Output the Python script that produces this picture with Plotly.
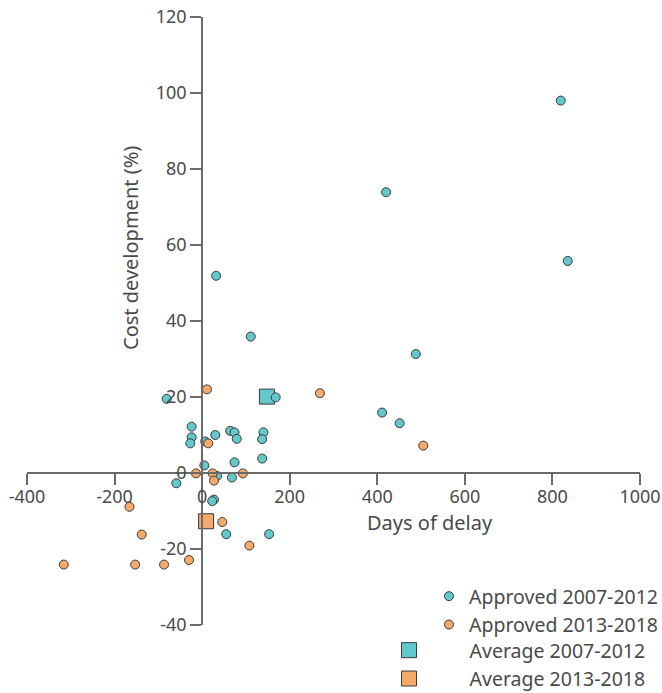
import plotly.graph_objects as go

# Approved 2007-2012 (days of delay, cost development %)
delay_0712 = [819, 420, 835, 111, 488, 32, -81, 168, 411, 451,
              -24, -24, -27, 7, 30, 64, 74, 79, 140, 137,
              137, 74, 5, 34, 68, -59, 27, 23, 55, 153]
cost_0712 = [98.0, 73.9, 55.8, 35.9, 31.3, 51.9, 19.5, 19.9, 15.9, 13.1,
             12.2, 9.4, 7.8, 8.3, 10.0, 11.1, 10.7, 9.0, 10.7, 8.9,
             3.8, 2.8, 2.0, -0.8, -1.2, -2.7, -7.0, -7.4, -16.1, -16.1]

# Approved 2013-2018
delay_1318 = [11, 269, 14, 505, -14, 24, 27, 93, -166, 46,
              -138, 108, -316, -153, -87, -30]
cost_1318 = [22.0, 21.0, 7.8, 7.2, -0.1, -0.1, -2.0, -0.1, -8.9, -12.9,
             -16.2, -19.1, -24.1, -24.1, -24.1, -22.9]

# Averages
avg_delay = [148, 9]
avg_cost = [20.1, -12.7]

x_ticks = [-400, -200, 0, 200, 400, 600, 800, 1000]
x_tick_text = ["-400", "-200", "0", "200", "400", "600", "800", "1000"]
y_ticks = [-40, -20, 0, 20, 40, 60, 80, 100, 120]
y_tick_text = ["-40", "-20", "0", "20", "40", "60", "80", "100", "120"]

TEAL = "#62C8CA"
ORANGE = "#F5A96B"
EDGE = "#3a3a3a"
AXIS = "#6a6a6a"
TXT = "#4a4a4a"
FONT = "Noto Sans"

NB = "\u00a0" * 8
W, H = 662, 693

fig = go.Figure()
fig.add_trace(go.Scatter(x=[avg_delay[0]], y=[avg_cost[0]], mode="markers",
                         name=NB + "Average 2007-2012", legend="legend2",
                         legendgroup="a1",
                         marker=dict(symbol="square", size=15, color=TEAL,
                                     line=dict(color=EDGE, width=1))))
fig.add_trace(go.Scatter(x=[avg_delay[1]], y=[avg_cost[1]], mode="markers",
                         name=NB + "Average 2013-2018", legend="legend2",
                         legendgroup="a2",
                         marker=dict(symbol="square", size=15, color=ORANGE,
                                     line=dict(color=EDGE, width=1))))
fig.add_trace(go.Scatter(x=delay_0712, y=cost_0712, mode="markers",
                         name="Approved 2007-2012", legend="legend",
                         legendgroup="p1",
                         marker=dict(symbol="circle", size=9, color=TEAL,
                                     line=dict(color=EDGE, width=1))))
fig.add_trace(go.Scatter(x=delay_1318, y=cost_1318, mode="markers",
                         name="Approved 2013-2018", legend="legend",
                         legendgroup="p2",
                         marker=dict(symbol="circle", size=9, color=ORANGE,
                                     line=dict(color=EDGE, width=1))))

axis_common = dict(showgrid=False, zeroline=False, showline=True,
                   linecolor=AXIS, linewidth=2, ticks="outside", ticklen=11,
                   tickwidth=2, tickcolor=AXIS,
                   tickfont=dict(family=FONT, size=18, color=TXT),
                   anchor="free", tickmode="array", ticklabeloverflow="allow")

legend_common = dict(xref="container", yref="container",
                     xanchor="left", yanchor="top", bgcolor="rgba(0,0,0,0)",
                     font=dict(family=FONT, size=19.5, color=TXT),
                     itemsizing="trace", traceorder="grouped",
                     tracegroupgap=0)

fig.update_layout(
    width=W, height=H,
    paper_bgcolor="white", plot_bgcolor="white",
    margin=dict(l=27, r=22, t=17, b=68, autoexpand=False),
    font=dict(family=FONT, color=TXT),
    xaxis=dict(range=[-400, 1000], tickvals=x_ticks, ticktext=x_tick_text,
               position=0.25, ticklabelstandoff=-4, **axis_common),
    yaxis=dict(range=[-40, 120], tickvals=y_ticks, ticktext=y_tick_text,
               position=400 / 1400, **axis_common),
    legend=dict(x=429 / W, y=1 - 577 / H, **legend_common),
    legend2=dict(x=389 / W, y=1 - 631 / H, **legend_common),
    annotations=[
        dict(text="Days of delay", xref="paper", yref="paper",
             x=(430 - 27) / 613, y=(625 - 522) / 608, showarrow=False,
             xanchor="center", yanchor="middle",
             font=dict(family=FONT, size=20, color=TXT)),
        dict(text="Cost development (%)", xref="paper", yref="paper",
             x=(130 - 27) / 613, y=(625 - 248) / 608, showarrow=False,
             xanchor="center", yanchor="middle",
             textangle=-90, font=dict(family=FONT, size=20, color=TXT)),
    ],
)

fig.write_html("out.html", config={"displayModeBar": False},
               post_script="document.body.style.margin='0px';")
